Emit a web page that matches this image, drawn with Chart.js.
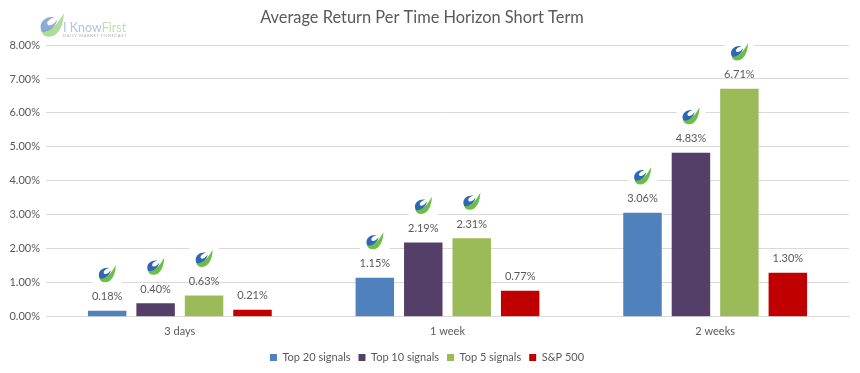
<!DOCTYPE html>
<html>
<head>
<meta charset="utf-8">
<style>
  html, body { margin: 0; padding: 0; background: #fff; }
  #wrap { width: 860px; height: 373px; }
</style>
<script src="https://cdn.jsdelivr.net/npm/chart.js@4"></script>
</head>
<body>
<div id="wrap"><canvas id="chart" width="860" height="373"></canvas></div>
<script>
const categories = ['3 days', '1 week', '2 weeks'];
const top20 = [0.18, 1.15, 3.06];
const top10 = [0.40, 2.19, 4.83];
const top5  = [0.63, 2.31, 6.71];
const sp500 = [0.21, 0.77, 1.30];
const seriesNames = ['Top 20 signals', 'Top 10 signals', 'Top 5 signals', 'S&P 500'];
const seriesColors = ['#4f81bd', '#543f69', '#9bbb59', '#c00000'];
const iconSeries = [0, 1, 2];
const chartTitle = 'Average Return Per Time Horizon Short Term';
const TEXT = '#595959';
const FONT = "Lato, 'Open Sans', sans-serif";

// small swoosh mark that sits above the model bars
function drawSwoosh(ctx, cx, cy, s) {
  ctx.save();
  ctx.translate(cx, cy);
  ctx.scale(s, s);
  ctx.fillStyle = '#6cbf45';
  ctx.beginPath();
  ctx.moveTo(9, -9);
  ctx.bezierCurveTo(9, 0, 5, 9, -2, 9);
  ctx.bezierCurveTo(-6, 9, -8, 7, -8, 4);
  ctx.bezierCurveTo(-3, 6, 3, 2, 9, -9);
  ctx.fill();
  ctx.fillStyle = '#3166b5';
  ctx.beginPath();
  ctx.moveTo(-8, 5);
  ctx.bezierCurveTo(-11, -2, -5, -7, 2, -6);
  ctx.bezierCurveTo(-2, -5, -5, -2, -3, 0);
  ctx.bezierCurveTo(-1, 1, 2, -1, 4, -4);
  ctx.bezierCurveTo(3, 1, -2, 6, -8, 5);
  ctx.fill();
  ctx.restore();
}

const barExtras = {
  id: 'barExtras',
  afterDatasetsDraw(chart) {
    const ctx = chart.ctx;
    chart.data.datasets.forEach((ds, i) => {
      chart.getDatasetMeta(i).data.forEach((bar, j) => {
        ctx.save();
        ctx.font = '11px ' + FONT;
        ctx.fillStyle = TEXT;
        ctx.textAlign = 'center';
        ctx.textBaseline = 'middle';
        ctx.fillText(ds.data[j].toFixed(2) + '%', bar.x, bar.y - 14);
        if (iconSeries.includes(i)) {
          ctx.fillStyle = '#fff';
          ctx.fillRect(bar.x - 14.5, bar.y - 37 - 12, 29, 24);
          drawSwoosh(ctx, bar.x, bar.y - 37, 0.95);
        }
        ctx.restore();
      });
    });
  }
};

// title sits a little left of centre, and the faded company logo top left
const header = {
  id: 'header',
  afterDraw(chart) {
    const ctx = chart.ctx;
    ctx.save();
    ctx.font = '16.4px ' + FONT;
    ctx.fillStyle = TEXT;
    ctx.textAlign = 'center';
    ctx.textBaseline = 'middle';
    ctx.fillText(chartTitle, 422, 18);
    ctx.textAlign = 'left';
    ctx.globalAlpha = 0.55;
    drawSwoosh(ctx, 52, 25, 1.3);
    ctx.textBaseline = 'alphabetic';
    ctx.font = '12.5px ' + FONT;
    ctx.fillStyle = '#6f8fd0';
    ctx.fillText('I Know', 63, 32);
    const w = ctx.measureText('I Know').width;
    ctx.fillStyle = '#86c96a';
    ctx.fillText('First', 63 + w, 32);
    ctx.fillStyle = '#666';
    ctx.font = '4px ' + FONT;
    ctx.letterSpacing = '0.7px';
    ctx.fillText('DAILY MARKET FORECAST', 63, 37);
    ctx.restore();
  }
};

const mkSet = (label, data, color) => ({
  label, data, backgroundColor: color,
  categoryPercentage: 0.724, barPercentage: 0.794
});

new Chart(document.getElementById('chart').getContext('2d'), {
  type: 'bar',
  data: {
    labels: categories,
    datasets: [
      mkSet(seriesNames[0], top20, seriesColors[0]),
      mkSet(seriesNames[1], top10, seriesColors[1]),
      mkSet(seriesNames[2], top5, seriesColors[2]),
      mkSet(seriesNames[3], sp500, seriesColors[3])
    ]
  },
  options: {
    responsive: false,
    animation: false,
    layout: { padding: { left: 5, right: 11, top: 45, bottom: 0 } },
    plugins: {
      tooltip: { enabled: false },
      title: { display: false },
      legend: {
        position: 'bottom',
        labels: {
          color: TEXT,
          font: { family: FONT, size: 11 },
          boxWidth: 7,
          boxHeight: 7,
          padding: 8
        }
      }
    },
    scales: {
      x: {
        afterFit(scale) { scale.height += 6; },
        grid: { display: false },
        border: { color: '#d9d9d9' },
        ticks: { color: TEXT, font: { family: FONT, size: 11 }, padding: 0 }
      },
      y: {
        min: 0,
        max: 8,
        afterFit(scale) { scale.width = 41; },
        grid: { color: '#d9d9d9', drawTicks: false },
        border: { display: false },
        ticks: {
          stepSize: 1,
          color: TEXT,
          padding: 6,
          font: { family: FONT, size: 11 },
          callback: v => v.toFixed(2) + '%'
        }
      }
    }
  },
  plugins: [barExtras, header]
});
</script>
</body>
</html>
